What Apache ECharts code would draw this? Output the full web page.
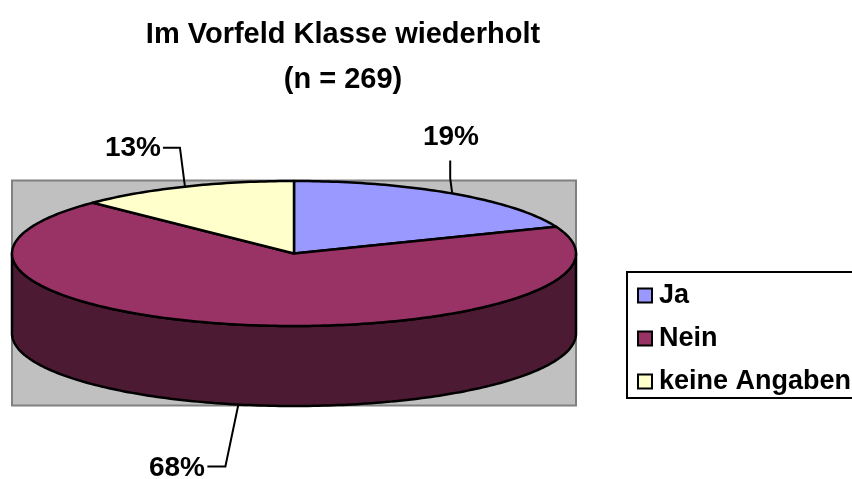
<!DOCTYPE html>
<html>
<head>
<meta charset="utf-8">
<title>Im Vorfeld Klasse wiederholt</title>
<script src="https://cdn.jsdelivr.net/npm/echarts@6/dist/echarts.min.js"></script>
<style>
  html, body { margin: 0; padding: 0; background: #fff; overflow: hidden; }
  #main { width: 852px; height: 479px; }
</style>
</head>
<body>
<div id="main"></div>
<script>
// Werte (n = 269, als Anzahl geschaetzt)
const categories = ['Ja', 'Nein', 'keine Angaben'];
const values = [51, 184, 34];
const chartTitle = 'Im Vorfeld Klasse wiederholt\n(n = 269)';

const colors = ['#9999ff', '#993366', '#ffffcc'];
const sideColors = ['#4d4d80', '#4d1a33', '#808066'];

// Ellipse der 3D-Torte
const cx = 294, cy = 253.5, rx = 282, ry = 72.5, depth = 80;
const FONT = '"Liberation Sans", Arial, sans-serif';

// Beschriftung: Knick der Hilfslinie und Textanker, relativ zum Randpunkt
const leaders = [
  { bend: [[-2, -15], [-2, -33]], text: [451, 137], align: 'center', bottom: false },
  { bend: [[-13, 62], [-31, 62]], text: [205, 468], align: 'right', bottom: true },
  { bend: [[-5, -39], [-22, -39]], text: [161, 148], align: 'right', bottom: false }
];

const total = values.reduce((a, b) => a + b, 0);

function pt(deg, dy) {
  const r = deg * Math.PI / 180;
  return [cx + rx * Math.sin(r), cy - ry * Math.cos(r) + (dy || 0)];
}

function arc(a1, a2, dy) {
  const pts = [];
  const n = Math.max(2, Math.ceil(Math.abs(a2 - a1)));
  for (let i = 0; i <= n; i++) {
    pts.push(pt(a1 + (a2 - a1) * i / n, dy));
  }
  return pts;
}

function renderSlice(idx) {
  return function (params, api) {
    const value = api.value(0);
    let before = 0;
    for (let i = 0; i < idx; i++) before += values[i];
    const a1 = before / total * 360;
    const a2 = a1 + value / total * 360;
    const mid = (a1 + a2) / 2;
    const children = [];
    const lineStyle = { stroke: '#000', lineWidth: 2.5, lineJoin: 'round' };

    // Seitenwand, nur der vordere Teil ist sichtbar
    const w1 = Math.max(a1, 90), w2 = Math.min(a2, 270);
    if (w2 > w1) {
      children.push({
        type: 'polygon',
        shape: { points: arc(w1, w2, 0).concat(arc(w2, w1, depth)) },
        style: Object.assign({ fill: sideColors[idx] }, lineStyle)
      });
    }

    // Deckel
    children.push({
      type: 'polygon',
      shape: { points: [[cx, cy]].concat(arc(a1, a2, 0)) },
      style: Object.assign({ fill: colors[idx] }, lineStyle)
    });

    // Hilfslinie und Prozentwert
    const lead = leaders[idx];
    const anchor = pt(mid, lead.bottom ? depth : 0);
    const line = [anchor].concat(lead.bend.map(b => [anchor[0] + b[0], anchor[1] + b[1]]));
    children.push({
      type: 'polyline',
      shape: { points: line },
      style: { stroke: '#000', lineWidth: 2, fill: null }
    });
    children.push({
      type: 'text',
      style: {
        x: lead.text[0],
        y: lead.text[1],
        text: Math.round(value / total * 100) + '%',
        fill: '#000',
        font: 'bold 28px ' + FONT,
        align: lead.align,
        verticalAlign: 'middle'
      }
    });
    return { type: 'group', children: children };
  };
}

const myChart = echarts.init(document.getElementById('main'), null, { renderer: 'canvas' });

const series = categories.map((name, i) => ({
  name: name,
  type: 'custom',
  coordinateSystem: 'none',
  clip: false,
  silent: true,
  animation: false,
  itemStyle: { color: colors[i] },
  data: [[values[i]]],
  renderItem: renderSlice(i)
}));

myChart.setOption({
  animation: false,
  backgroundColor: '#fff',
  title: {
    text: chartTitle,
    left: 338,
    top: 7,
    textAlign: 'center',
    textStyle: {
      fontFamily: FONT,
      fontWeight: 'bold',
      fontSize: 29,
      lineHeight: 45,
      color: '#000'
    }
  },
  legend: {
    orient: 'vertical',
    left: 627,
    top: 272,
    data: categories,
    icon: 'rect',
    itemWidth: 14,
    itemHeight: 14,
    itemGap: 16,
    padding: [10, 12, 3, 10],
    borderColor: '#000',
    borderWidth: 2,
    backgroundColor: '#fff',
    selectedMode: false,
    itemStyle: { borderColor: '#000', borderWidth: 2 },
    textStyle: {
      fontFamily: FONT,
      fontWeight: 'bold',
      fontSize: 27,
      lineHeight: 26,
      color: '#000',
      padding: [0, 0, 0, 2]
    }
  },
  graphic: [{
    type: 'rect',
    z: -10,
    silent: true,
    shape: { x: 12, y: 180.5, width: 564, height: 225 },
    style: { fill: '#c0c0c0', stroke: '#808080', lineWidth: 2 }
  }],
  series: series
});
window.onresize = myChart.resize;
</script>
</body>
</html>
